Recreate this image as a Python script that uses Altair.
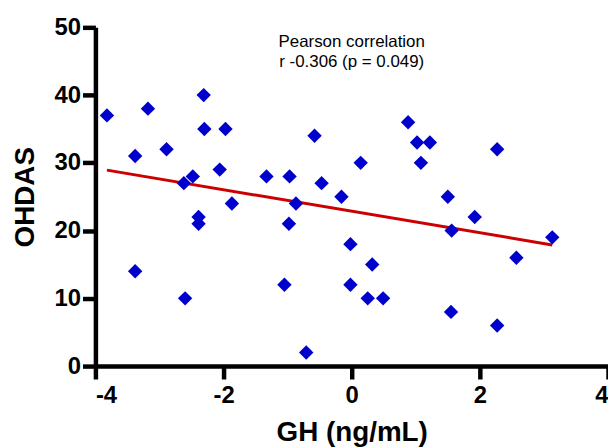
import altair as alt
import pandas as pd

gh = [-3.82, -3.18, -2.31, -3.38, -2.89, -2.30, -1.97, -2.62, -2.48, -2.06,
      -1.87, -2.39, -2.39, -3.38, -2.60, -1.33, -0.97, -0.87, -0.58, -0.47,
      -0.98, -1.05, -0.71, -0.16, -0.02, -0.02,
      0.88, 1.02, 1.22, 1.08, 0.14, 2.27, 1.50, 1.92, 1.56, 3.13, 2.57,
      0.32, 0.25, 0.49, 1.55, 2.27]
ohdas = [37, 38, 40, 31, 32, 35, 35, 27, 28, 29,
         24, 22, 21, 14, 10, 28, 28, 24, 34, 27,
         21, 12, 2, 25, 18, 12,
         36, 33, 33, 30, 30, 32, 25, 22, 20, 19, 16,
         15, 10, 10, 8, 6]

note_x = [0]
note_y = [47.8]
note_text = ["Pearson correlation\nr -0.306 (p = 0.049)"]

df = pd.DataFrame({"GH": gh, "OHDAS": ohdas})
note = pd.DataFrame({"x": note_x, "y": note_y, "t": note_text})

xs = alt.Scale(domain=[-4, 4], nice=False)
ys = alt.Scale(domain=[0, 50], nice=False)

xax = alt.Axis(values=[-4, -2, 0, 2, 4], title="GH (ng/mL)", grid=False,
               labelExpr="'' + datum.value", titlePadding=11, labelPadding=5)
yax = alt.Axis(values=[0, 10, 20, 30, 40, 50], title="OHDAS", grid=False,
               labelExpr="'' + datum.value", titlePadding=15, labelPadding=2)

base = alt.Chart(df)

pts = base.mark_point(shape="diamond", filled=True, size=210, color="#0000CC", opacity=1).encode(
    x=alt.X("GH:Q", scale=xs, axis=xax),
    y=alt.Y("OHDAS:Q", scale=ys, axis=yax),
)

reg = base.transform_regression("GH", "OHDAS").mark_line(color="#CC0000", strokeWidth=3).encode(
    x=alt.X("GH:Q", scale=xs),
    y=alt.Y("OHDAS:Q", scale=ys),
)

txt = alt.Chart(note).mark_text(
    font="Liberation Sans Narrow, Liberation Sans", fontSize=17, lineBreak="\n", lineHeight=20,
    align="center", baseline="middle", color="black"
).encode(x=alt.X("x:Q", scale=xs), y=alt.Y("y:Q", scale=ys), text="t:N")

chart = alt.layer(reg, pts, txt).properties(
    width=516, height=341,
    autosize=alt.AutoSizeParams(type="none"),
    padding={"left": 88, "top": 18, "right": 0, "bottom": 82},
).configure_view(stroke=None).configure_axis(
    domainColor="black", domainWidth=4.5, tickColor="black", tickWidth=4.5,
    tickSize=13, labelFont="Liberation Sans", labelFontWeight="bold",
    labelFontSize=24, labelColor="black", titleFont="Liberation Sans",
    titleFontWeight="bold", titleFontSize=28, titleColor="black",
)

chart.save("out.html", embed_options={"renderer": "svg", "actions": False})
